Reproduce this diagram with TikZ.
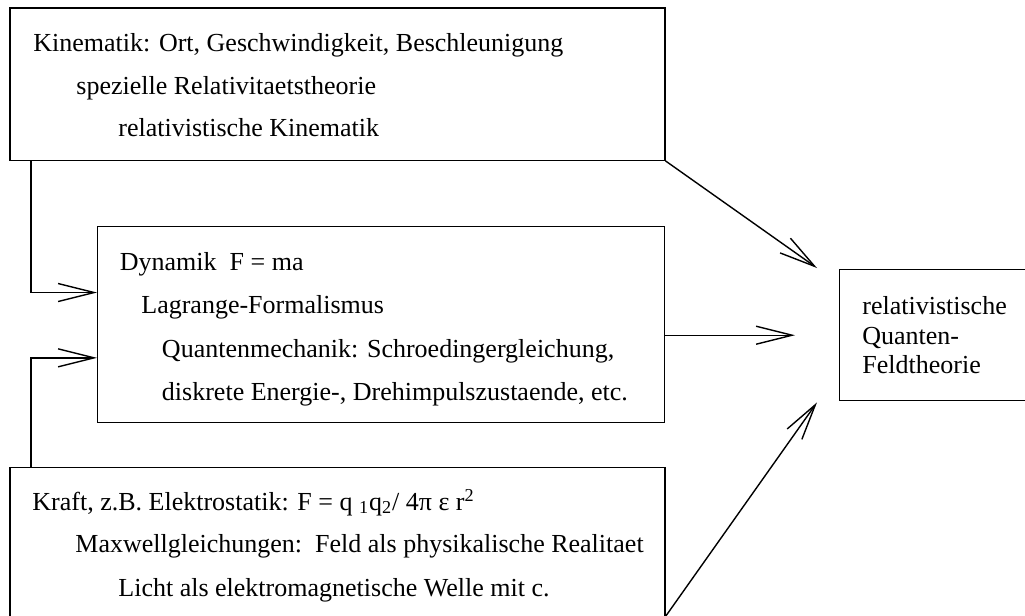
\documentclass[tikz,border=0pt]{standalone}
\usepackage{fontspec}
\setmainfont{Liberation Serif}
\usetikzlibrary{arrows.meta,calc}

\tikzset{
  box/.style={draw, line width=0.7pt, inner sep=0pt, anchor=north west},
  txt/.style={anchor=base west, inner sep=0pt, font=\fontsize{13}{15}\selectfont},
  flow/.style={line width=0.7pt, -{Straight Barb[length=18pt,width=9pt,line width=0.7pt]}}
}

\begin{document}
\begin{tikzpicture}[x=0.5pt,y=-0.5pt]

\useasboundingbox (0,0) rectangle (1025,616);

% Boxes
\node[box, minimum width=327.4pt, minimum height=76.1pt] (kin) at (9.3,7.3) {};
\node[box, minimum width=283.5pt, minimum height=98pt] (dyn) at (97,226) {};
\node[box, minimum width=327.4pt, minimum height=75.3pt] (kraft) at (9.3,466.5) {};
\node[box, minimum width=95pt, minimum height=65.5pt] (qft) at (839,269) {};

% Kinematik
\node[txt] (kin1) at (33,51.7) {Kinematik: Ort, Geschwindigkeit, Beschleunigung};
\node[txt] (kin2) at (76,94.3) {spezielle Relativitaetstheorie};
\node[txt] (kin3) at (118,136.7) {relativistische Kinematik};

% Dynamik
\node[txt] (dyn1) at (119.5,270) {Dynamik\ \ F = ma};
\node[txt] (dyn2) at (141,313) {Lagrange-Formalismus};
\node[txt] (dyn3) at (161.6,357) {Quantenmechanik: Schroedingergleichung,};
\node[txt] (dyn4) at (161.6,400) {diskrete Energie-, Drehimpulszustaende, etc.};

% Kraft
\node[txt] (kraft1) at (32,510)
  {Kraft, z.B. Elektrostatik: F = q \textsubscript{1}q\textsubscript{2}/ 4π ε r\textsuperscript{2}};
\node[txt] (kraft2) at (75,552.7) {Maxwellgleichungen:\ \ Feld als physikalische Realitaet};
\node[txt] (kraft3) at (118,596.7) {Licht als elektromagnetische Welle mit c.};

% Quantenfeldtheorie
\node[txt] (qft1) at (862,314) {relativistische};
\node[txt] (qft2) at (862,344) {Quanten-};
\node[txt] (qft3) at (862,373) {Feldtheorie};

% Connectors
\coordinate (inA) at ($(dyn.north west)!0.337!(dyn.south west)$);
\coordinate (inB) at ($(dyn.north west)!0.668!(dyn.south west)$);
\draw[flow] ($(kin.south west)+(21.7,0)$) |- (inA);
\draw[flow] ($(kraft.north west)+(21.7,0)$) |- (inB);
\draw[flow] (kin.south east) -- ($(qft.north west)+(-22,-1)$);
\draw[flow] (dyn.east |- qft.west) -- ($(qft.west)+(-44,0)$);
\draw[flow] ($(kraft.south east)+(0,-2)$) -- ($(qft.south west)+(-22,1)$);

\end{tikzpicture}
\end{document}
